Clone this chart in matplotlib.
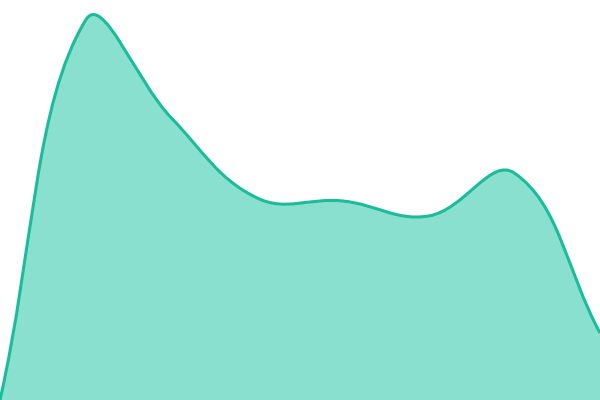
import numpy as np
import matplotlib
matplotlib.use("Agg")
import matplotlib.pyplot as plt
from matplotlib.path import Path
from matplotlib.patches import PathPatch

# values (8 evenly spaced samples)
steps = [0, 1, 2, 3, 4, 5, 6, 7]
values = [0, 380, 282, 202, 199, 184, 227, 67]

line_color = "#1abc9c"
fill_color = "#8ae0cf"
tension = 0.4
W, H = 600, 400


def control_points(px, py):
    # spline control points, computed in pixel space
    n = len(px)
    cps = []
    for i in range(n):
        pprev = np.array([px[max(i - 1, 0)], py[max(i - 1, 0)]])
        cur = np.array([px[i], py[i]])
        pnext = np.array([px[min(i + 1, n - 1)], py[min(i + 1, n - 1)]])
        d01 = np.hypot(*(cur - pprev))
        d12 = np.hypot(*(pnext - cur))
        s01 = d01 / (d01 + d12) if d01 + d12 else 0
        s12 = d12 / (d01 + d12) if d01 + d12 else 0
        fa = tension * s01
        fb = tension * s12
        cps.append((cur - fa * (pnext - pprev), cur + fb * (pnext - pprev)))
    return cps


def smooth_path(x, y, close=False):
    sx = W / (x[-1] - x[0])
    px = (x - x[0]) * sx
    py = y
    cps = control_points(px, py)
    verts = [(x[0], y[0])]
    codes = [Path.MOVETO]
    for i in range(len(x) - 1):
        c1 = cps[i][1]
        c2 = cps[i + 1][0]
        verts += [(c1[0] / sx + x[0], c1[1]), (c2[0] / sx + x[0], c2[1]),
                  (x[i + 1], y[i + 1])]
        codes += [Path.CURVE4] * 3
    if close:
        verts += [(x[-1], 0), (x[0], 0), (x[0], y[0])]
        codes += [Path.LINETO, Path.LINETO, Path.CLOSEPOLY]
    return Path(verts, codes)


xs = np.array(steps, dtype=float)
ys = np.array(values, dtype=float)

fig = plt.figure(figsize=(6, 4), dpi=100)
ax = fig.add_axes([0, 0, 1, 1])

ax.add_patch(PathPatch(smooth_path(xs, ys, close=True), facecolor=fill_color,
                       edgecolor="none"))
ax.add_patch(PathPatch(smooth_path(xs, ys), facecolor="none",
                       edgecolor=line_color, linewidth=2.2))

ax.set_xlim(steps[0], steps[-1])
ax.set_ylim(0, H)
ax.axis("off")

fig.savefig("out.png", dpi=100)
